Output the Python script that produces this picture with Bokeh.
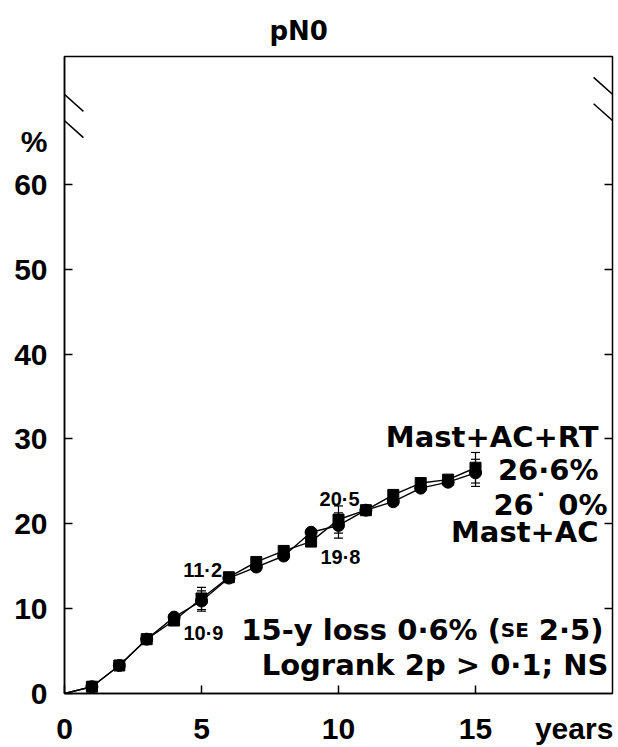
from bokeh.plotting import figure
from bokeh.models import (Range1d, FixedTicker, LinearAxis, Label, Arrow,
                          Whisker, TeeHead, ColumnDataSource)
from bokeh.embed import file_html
from bokeh.resources import INLINE

# ---- data ----
years = [0, 1, 2, 3, 4, 5, 6, 7, 8, 9, 10, 11, 12, 13, 14, 15]
mast_ac_rt = [0, 0.8, 3.3, 6.4, 8.6, 11.2, 13.7, 15.5, 16.8, 17.9, 20.5, 21.6, 23.4, 24.8, 25.2, 26.6]
mast_ac = [0, 0.8, 3.3, 6.4, 9.0, 10.9, 13.6, 14.9, 16.2, 19.0, 19.8, 21.6, 22.6, 24.2, 24.9, 26.0]
se_years = [5, 10, 15]
se_rt = [1.3, 1.6, 1.8]
se_ac = [1.2, 1.5, 1.6]
x_ticks = [0, 5, 10, 15]
y_ticks = [0, 10, 20, 30, 40, 50, 60]
x_unit_label = "years"
y_unit_label = "%"

# layout positions for the unit labels (axis coordinates)
X_UNIT_AT = 18.6
Y_UNIT_AT = 65

TICKFONT = "Liberation Sans"
FONT = "DejaVu Sans"
BIG = "29px"
SMALL = "20px"

p = figure(width=618, height=747, x_range=Range1d(0, 20), y_range=Range1d(0, 75.06),
           output_backend="svg", toolbar_location=None,
           min_border_left=64, min_border_right=6, min_border_top=56, min_border_bottom=53)
p.title.text = "pN0"
p.title.align = "left"
p.title.offset = 205
p.title.text_font = FONT
p.title.text_font_style = "bold"
p.title.text_font_size = "26px"
p.title.text_color = "black"
p.title.standoff = 22
p.grid.visible = False
p.background_fill_color = "white"
p.border_fill_color = "white"
p.outline_line_color = "black"
p.outline_line_width = 1.5

for ax in (p.xaxis[0], p.yaxis[0]):
    ax.axis_line_width = 1.5
    ax.major_tick_line_color = None
    ax.major_tick_in = 0
    ax.major_tick_out = 0
    ax.minor_tick_in = 8
    ax.minor_tick_out = 0
    ax.minor_tick_line_width = 1.5
    ax.minor_tick_line_color = "black"
    ax.major_label_text_font = TICKFONT
    ax.major_label_text_font_style = "bold"
    ax.major_label_text_font_size = "30px"
    ax.major_label_text_color = "black"

p.xaxis[0].ticker = FixedTicker(ticks=x_ticks + [X_UNIT_AT], minor_ticks=x_ticks)
p.xaxis[0].major_label_overrides = {X_UNIT_AT: x_unit_label}
p.xaxis[0].major_label_standoff = 18
p.yaxis[0].ticker = FixedTicker(ticks=y_ticks + [Y_UNIT_AT], minor_ticks=y_ticks)
p.yaxis[0].major_label_overrides = {Y_UNIT_AT: y_unit_label}
p.yaxis[0].major_label_standoff = 17

right = LinearAxis(ticker=FixedTicker(ticks=y_ticks[1:]), axis_line_color=None,
                   major_tick_in=8, major_tick_out=0, major_tick_line_width=1.5,
                   minor_tick_line_color=None, major_label_standoff=0,
                   major_label_overrides={t: "" for t in y_ticks[1:]})
p.add_layout(right, "right")

# curves
p.line(years, mast_ac_rt, line_color="black", line_width=1.4)
p.line(years, mast_ac, line_color="black", line_width=1.4)

rt_src = ColumnDataSource(dict(x=se_years,
                               lo=[mast_ac_rt[y] - s for y, s in zip(se_years, se_rt)],
                               hi=[mast_ac_rt[y] + s for y, s in zip(se_years, se_rt)]))
ac_src = ColumnDataSource(dict(x=se_years,
                               lo=[mast_ac[y] - s for y, s in zip(se_years, se_ac)],
                               hi=[mast_ac[y] + s for y, s in zip(se_years, se_ac)]))
for src in (rt_src, ac_src):
    p.add_layout(Whisker(source=src, base="x", lower="lo", upper="hi",
                         line_color="black", line_width=1.2,
                         upper_head=TeeHead(size=9, line_width=1.2, line_color="black"),
                         lower_head=TeeHead(size=9, line_width=1.2, line_color="black")))

p.scatter(years[1:], mast_ac[1:], marker="circle", size=12, color="black")
p.scatter(years[1:], mast_ac_rt[1:], marker="square", size=11, color="black")

# axis-break marks (the part inside the frame is what Bokeh can draw)
for x0, y0, x1, y1 in [(-0.69, 72.6, 0.69, 68.6), (-0.69, 69.5, 0.69, 65.5),
                       (19.31, 72.6, 20.69, 68.6), (19.31, 69.5, 20.69, 65.5)]:
    p.add_layout(Arrow(end=None, x_start=x0, y_start=y0, x_end=x1, y_end=y1,
                       line_color="black", line_width=1.5))


def lab(x, y, text, size=BIG, align="right", baseline="alphabetic", font=FONT):
    p.add_layout(Label(x=x, y=y, text=text, text_font=font, text_font_style="bold",
                       text_font_size=size, text_align=align, text_baseline=baseline,
                       text_color="black"))


lab(19.49, 30.24, "Mast+AC+RT")
lab(19.49, 26.35, "26·6%")
lab(19.82, 22.24, "26˙ 0%")
lab(19.49, 19.06, "Mast+AC")

lab(5.04, 14.59, "11·2", size=SMALL, align="center", font=TICKFONT)
lab(5.07, 7.18, "10·9", size=SMALL, align="center", font=TICKFONT)
lab(10.04, 22.94, "20·5", size=SMALL, align="center", font=TICKFONT)
lab(10.07, 16.12, "19·8", size=SMALL, align="center", font=TICKFONT)

lab(19.67, 7.53, "2·5)")
lab(16.95, 7.53, "SE", size="20px")
lab(15.93, 7.53, "15-y loss 0·6% (")
lab(19.85, 3.41, "Logrank 2p > 0·1; NS")

open("out.html", "w").write(file_html(p, INLINE))
